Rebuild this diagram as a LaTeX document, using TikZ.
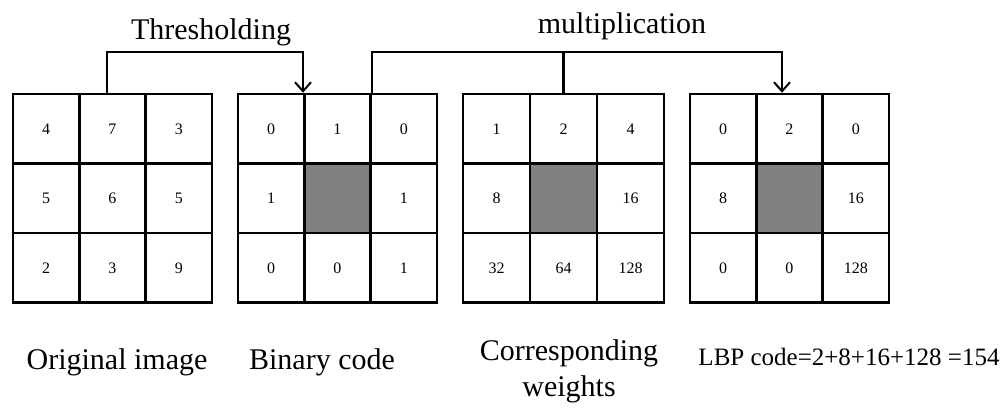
\documentclass[tikz,border=0pt]{standalone}
\usepackage{fontspec}
\setmainfont{Liberation Serif}
\usetikzlibrary{arrows.meta,calc}
\tikzset{
  cell/.style={draw=black, line width=2.6pt, minimum width=66.3pt, minimum height=69.5pt, inner sep=0pt, text height=11pt, text depth=0pt, font=\fontsize{16}{18}\selectfont},
  gray cell/.style={cell, fill=black!50},
  conn/.style={draw=black, line width=2.2pt},
  arr/.style={conn, -{Straight Barb[length=9pt,width=16pt,line width=2pt]}},
  lbl/.style={inner sep=0pt, font=\fontsize{30}{36}\selectfont},
  lblsmall/.style={inner sep=0pt, font=\fontsize{25}{30}\selectfont}
}
\begin{document}
\begin{tikzpicture}[x=1pt,y=-1pt]
\useasboundingbox (0,0) rectangle (1008,407);
% Matrix 1: original image (left 13)
\foreach \r/\c/\v in {1/1/4,1/2/7,1/3/3,2/1/5,2/2/6,2/3/5,3/1/2,3/2/3,3/3/9}{
  \node[cell] (a\r\c) at ({13+66.3*(\c-0.5)},{94+69.5*(\r-0.5)}) {\v};
}
% Matrix 2: binary code (left 238)
\foreach \r/\c/\v in {1/1/0,1/2/1,1/3/0,2/1/1,2/3/1,3/1/0,3/2/0,3/3/1}{
  \node[cell] (b\r\c) at ({238+66.3*(\c-0.5)},{94+69.5*(\r-0.5)}) {\v};
}
\node[gray cell] (b22) at ({238+66.3*1.5},{94+69.5*1.5}) {};
% Matrix 3: weights (left 463)
\foreach \r/\c/\v in {1/1/1,1/2/2,1/3/4,2/1/8,2/3/16,3/1/32,3/2/64,3/3/128}{
  \node[cell, minimum width=67pt] (c\r\c) at ({463+67*(\c-0.5)},{94+69.5*(\r-0.5)}) {\v};
}
\node[gray cell, minimum width=67pt] (c22) at ({463+67*1.5},{94+69.5*1.5}) {};
% Matrix 4: result (left 690)
\foreach \r/\c/\v in {1/1/0,1/2/2,1/3/0,2/1/8,2/3/16,3/1/0,3/2/0,3/3/128}{
  \node[cell] (d\r\c) at ({690+66.3*(\c-0.5)},{94+69.5*(\r-0.5)}) {\v};
}
\node[gray cell] (d22) at ({690+66.3*1.5},{94+69.5*1.5}) {};
% connectors
\coordinate (t1) at (107,52);
\coordinate (t2) at (372,52);
\coordinate (t3) at (782,52);
\draw[arr] (a12.north -| t1) -- (t1) -| (b12.north west);
\draw[arr] (b13.north -| t2) -- (t2) -- (t3) -- (t3 |- d12.north);
\draw[conn] (c12.north) -- (c12.north |- t2);
% labels
\node[lbl] (thr) at (211,32) {Thresholding};
\node[lbl] (mul) at (622,26) {multiplication};
\node[lbl] (orig) at (117,362) {Original image};
\node[lbl] (bin) at (322,362) {Binary code};
\node[lbl, align=center] (wts) at (569,371) {Corresponding\\weights};
\node[lblsmall] (lbp) at (849,357) {LBP code=2+8+16+128 =154};
\end{tikzpicture}
\end{document}
